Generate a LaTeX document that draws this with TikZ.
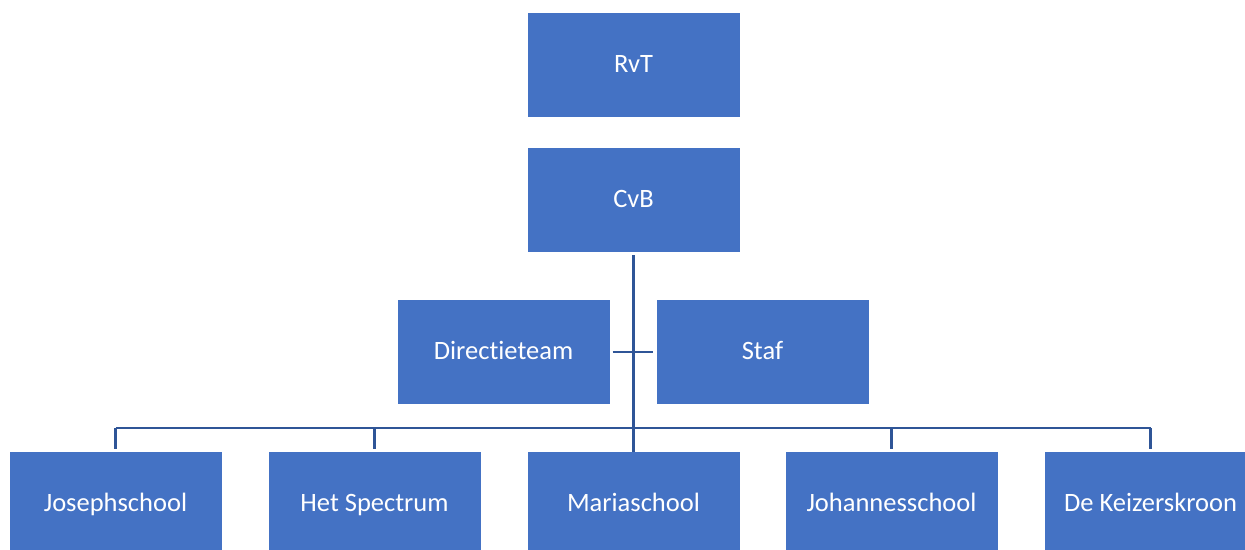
\documentclass[tikz,border=0pt]{standalone}
\usepackage{fontspec}
\setmainfont{Carlito}[Ligatures=NoCommon]
\definecolor{boxblue}{HTML}{4472C4}
\definecolor{lineblue}{HTML}{2F5597}
\begin{document}
\begin{tikzpicture}[x=1pt,y=-1pt,
  orgbox/.style={rectangle, fill=boxblue, draw=none, minimum width=212pt, minimum height=104pt, text=white, font=\fontsize{26.5}{30}\selectfont, inner sep=0pt, text height=20pt, text depth=5pt},
  conn/.style={draw=lineblue, line width=2.6pt}]
\useasboundingbox (0,0) rectangle (1245,549);
\node[orgbox] (rvt) at (633.5,65) {RvT};
\node[orgbox] (cvb) at (633.5,200) {CvB};
\node[orgbox] (dir) at (503.5,352) {Directieteam};
\node[orgbox] (staf) at (762.5,352) {Staf};
\node[orgbox] (s1) at (115.5,504) {Josephschool};
\node[orgbox] (s2) at (374.5,504) {Het Spectrum};
\node[orgbox] (s3) at (633.5,504) {Mariaschool};
\node[orgbox] (s4) at (891.5,504) {Johannesschool};
\node[orgbox] (s5) at (1150.5,504) {De Keizerskroon};
\coordinate (busL) at (115.5,428);
\coordinate (busR) at (1150.5,428);
\draw[conn, shorten <=3pt] (cvb.south) -- (s3.north);
\draw[conn, shorten <=3pt, shorten >=3pt] (dir.east) -- (staf.west);
\draw[conn] (busL) -- (busR);
\draw[conn, shorten >=3pt] (busL) -- (s1.north);
\draw[conn, shorten >=3pt] (s2.north |- busL) -- (s2.north);
\draw[conn, shorten >=3pt] (s4.north |- busL) -- (s4.north);
\draw[conn, shorten >=3pt] (busR) -- (s5.north);
\end{tikzpicture}
\end{document}
